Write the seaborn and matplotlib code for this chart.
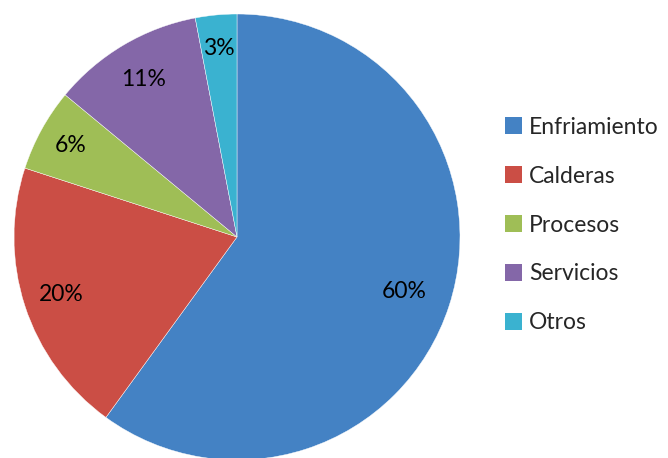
import matplotlib
matplotlib.use("Agg")
import matplotlib.pyplot as plt
import seaborn as sns
import numpy as np
from matplotlib.patches import Patch

# data
categorias = ["Enfriamiento", "Calderas", "Procesos", "Servicios", "Otros"]
porcentajes = [60, 20, 6, 11, 3]
colores = ["#4482C4", "#CB4E45", "#9FBE56", "#8467A8", "#3AB2D0"]
# label distance from center for each wedge (Excel best-fit style)
dist_etiquetas = [0.79, 0.83, 0.85, 0.82, 0.85]

sns.set_theme(style="white")
plt.rcParams["font.family"] = ["Lato", "DejaVu Sans"]

fig = plt.figure(figsize=(6.68, 4.58), dpi=100)
# pie centered at about (237, 237) px with radius ~223 px
ax = fig.add_axes([14 / 668, (458 - 460) / 458, 446 / 668, 446 / 458])

wedges, texts, autotexts = ax.pie(
    porcentajes,
    colors=colores,
    startangle=90,
    counterclock=False,
    radius=1.0,
    autopct=lambda p: f"{p:.0f}%",
    pctdistance=0.8,
    wedgeprops=dict(edgecolor="white", linewidth=0.3),
    textprops=dict(fontsize=16.5, color="black"),
)

# move each percentage label to its own distance
for w, t, d in zip(wedges, autotexts, dist_etiquetas):
    ang = np.deg2rad((w.theta1 + w.theta2) / 2)
    t.set_position((d * np.cos(ang), d * np.sin(ang)))

ax.set_xlim(-1, 1)
ax.set_ylim(-1, 1)
ax.set_aspect("equal")
ax.axis("off")

handles = [Patch(facecolor=c, edgecolor="none") for c in colores]
fig.legend(
    handles, categorias,
    loc="center left",
    bbox_to_anchor=(496 / 668, 1 - 225 / 458),
    frameon=False,
    fontsize=16.5,
    handlelength=0.75,
    handleheight=0.75,
    handletextpad=0.3,
    labelspacing=1.22,
    borderaxespad=0,
)

fig.savefig("out.png", dpi=100)
